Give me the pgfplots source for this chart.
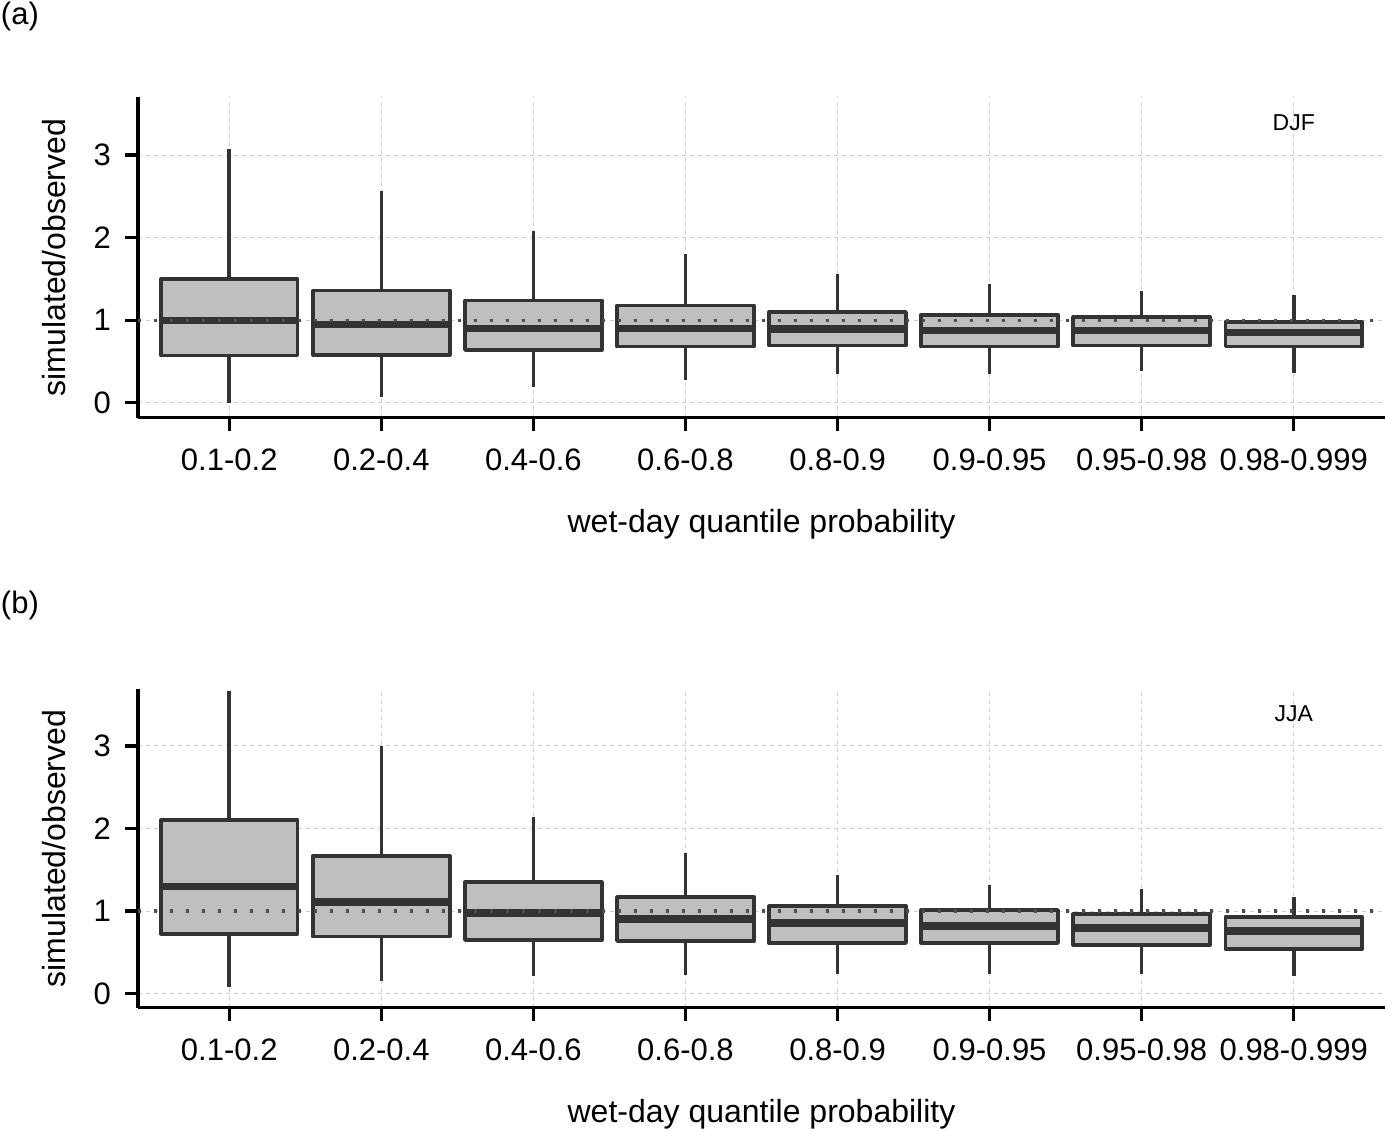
\documentclass[border=0pt]{standalone}
\usepackage{pgfplots}
\pgfplotsset{compat=1.18}
\usepackage{pgfplotstable}
\usepgfplotslibrary{statistics}
\usepackage{fontspec}
\setmainfont{Liberation Sans}

\definecolor{boxline}{HTML}{333333}
\definecolor{boxfill}{HTML}{BFBFBF}
\definecolor{gridc}{HTML}{CCCCCC}
\definecolor{refc}{HTML}{4D4D4D}

% box statistics per quantile bin: lower whisker, quartiles, median, upper whisker
\pgfplotstableread{
pos lw    lq    med   uq    uw
1   0.00  0.575 1.00  1.50  3.07
2   0.07  0.58  0.945 1.36  2.57
3   0.19  0.64  0.905 1.24  2.08
4   0.275 0.68  0.905 1.18  1.80
5   0.35  0.695 0.893 1.10  1.56
6   0.35  0.68  0.873 1.067 1.44
7   0.39  0.695 0.873 1.04  1.35
8   0.364 0.68  0.85  0.98  1.305
}\djf

\pgfplotstableread{
pos lw    lq    med   uq    uw
1   0.077 0.726 1.295 2.10  3.67
2   0.157 0.69  1.11  1.67  2.995
3   0.218 0.65  0.976 1.35  2.14
4   0.23  0.638 0.904 1.17  1.70
5   0.238 0.614 0.856 1.06  1.437
6   0.238 0.614 0.82  1.013 1.316
7   0.238 0.59  0.795 0.965 1.264
8   0.22  0.54  0.76  0.93  1.167
}\jja

\newcommand\tickfont{\fontsize{15.5}{18}\selectfont}
\newcommand\labfont{\fontsize{16}{19}\selectfont}

% one boxplot per table row
\newcommand\drawboxes[1]{%
  \pgfplotsforeachungrouped \i in {0,...,7}{%
    \pgfplotstablegetelem{\i}{pos}\of#1\let\vpos\pgfplotsretval
    \pgfplotstablegetelem{\i}{lw}\of#1\let\vlw\pgfplotsretval
    \pgfplotstablegetelem{\i}{lq}\of#1\let\vlq\pgfplotsretval
    \pgfplotstablegetelem{\i}{med}\of#1\let\vmed\pgfplotsretval
    \pgfplotstablegetelem{\i}{uq}\of#1\let\vuq\pgfplotsretval
    \pgfplotstablegetelem{\i}{uw}\of#1\let\vuw\pgfplotsretval
    \edef\doplot{\noexpand\addplot[bx, boxplot prepared={draw position=\vpos,
      lower whisker=\vlw, lower quartile=\vlq, median=\vmed,
      upper quartile=\vuq, upper whisker=\vuw}] coordinates {};}%
    \doplot
  }%
}

\pgfplotsset{
  panel/.style={
    scale only axis,
    width=623.5pt,
    xmin=0.4, xmax=8.6,
    axis lines=left,
    axis line style={-, black, line width=1.65pt},
    tick style={black, line width=1.65pt},
    tick align=outside,
    major tick length=6.5pt,
    xtick={1,...,8},
    xticklabels={0.1-0.2,0.2-0.4,0.4-0.6,0.6-0.8,0.8-0.9,0.9-0.95,0.95-0.98,0.98-0.999},
    ytick={0,1,2,3},
    minor tick num=0,
    grid=major,
    major grid style={gridc, line width=0.5pt, dash pattern=on 2pt off 2pt},
    tick label style={font=\tickfont},
    xticklabel style={yshift=-5.5pt},
    yticklabel style={xshift=-3.5pt},
    /pgf/number format/assume math mode=true,
    label style={font=\labfont},
    xlabel={wet-day quantile probability},
    ylabel={simulated/observed},
    xlabel shift=12.5pt,
    ylabel shift=7pt,
    boxplot/draw direction=y,
    boxplot/box extend=0.9,
    boxplot/whisker extend=0,
    boxplot/every median/.style={draw=boxline, line width=3.6pt},
    boxplot/every whisker/.style={draw=boxline, line width=1.8pt},
    boxplot/every box/.style={draw=boxline, fill=boxfill, line width=1.8pt},
  },
  bx/.style={draw=boxline, fill=boxfill, line width=1.8pt, line join=round},
  refline/.style={refc, line width=1.6pt, dash pattern=on 1.6pt off 6.4pt, forget plot},
}

\begin{document}
\begin{tikzpicture}
\path[use as bounding box] (0pt,0pt) rectangle (692.5pt,-564.5pt);

\node[anchor=west, inner sep=0pt, font=\tickfont] at (0.3pt,-8pt) {(a)};
\node[anchor=west, inner sep=0pt, font=\tickfont] at (0.3pt,-302.5pt) {(b)};

\begin{axis}[panel, at={(69pt,-208.85pt)}, anchor=south west,
  height=160.2pt, ymin=-0.18, ymax=3.70]
\drawboxes{\djf}
\addplot[refline] coordinates {(0.4,1) (8.6,1)};
\node[font=\fontsize{11.5}{13}\selectfont] at (axis cs:8,3.39) {DJF};
\end{axis}

\begin{axis}[panel, at={(69pt,-503.85pt)}, anchor=south west,
  height=159.2pt, ymin=-0.17, ymax=3.685]
\drawboxes{\jja}
\addplot[refline] coordinates {(0.4,1) (8.6,1)};
\node[font=\fontsize{11.5}{13}\selectfont] at (axis cs:8,3.39) {JJA};
\end{axis}
\end{tikzpicture}
\end{document}
